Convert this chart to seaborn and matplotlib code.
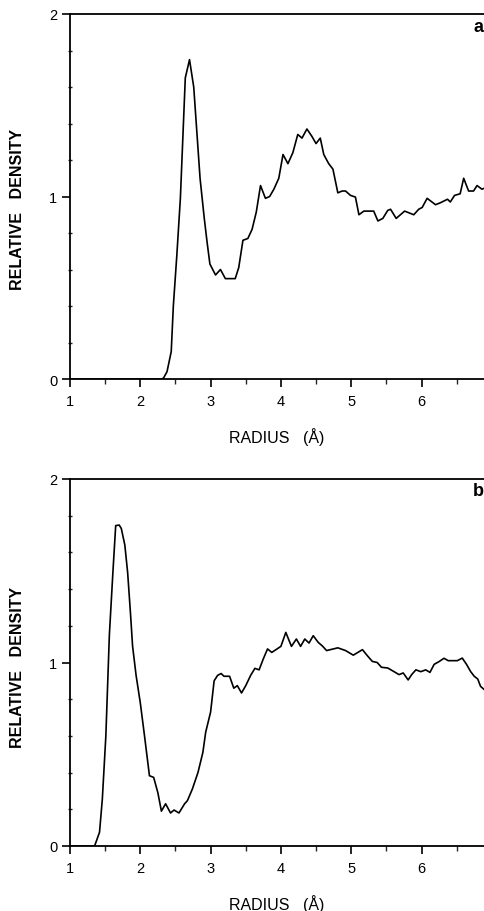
import numpy as np
import pandas as pd
import matplotlib
matplotlib.use("Agg")
import matplotlib.pyplot as plt
import seaborn as sns
from matplotlib.ticker import MultipleLocator

radius_a = [1.0, 2.30, 2.33, 2.38, 2.44, 2.47, 2.52, 2.57, 2.64, 2.70, 2.76, 2.85, 2.91, 2.95, 2.99,
            3.07, 3.14, 3.21, 3.35, 3.40, 3.46, 3.53, 3.59, 3.65, 3.71, 3.78, 3.84, 3.90, 3.97, 4.03,
            4.10, 4.17, 4.24, 4.30, 4.37, 4.44, 4.50, 4.56, 4.61, 4.68, 4.74, 4.81, 4.87, 4.92, 4.99,
            5.06, 5.11, 5.18, 5.32, 5.38, 5.45, 5.52, 5.56, 5.64, 5.76, 5.89, 5.96, 6.01, 6.08, 6.20,
            6.27, 6.37, 6.41, 6.47, 6.55, 6.60, 6.67, 6.74, 6.79, 6.86, 6.92]
density_a = [0, 0, 0.005, 0.04, 0.15, 0.40, 0.68, 0.99, 1.65, 1.75, 1.60, 1.10, 0.88, 0.75, 0.63,
             0.57, 0.60, 0.55, 0.55, 0.61, 0.76, 0.77, 0.82, 0.915, 1.06, 0.99, 1.00, 1.04, 1.10, 1.23,
             1.18, 1.24, 1.34, 1.32, 1.37, 1.33, 1.29, 1.32, 1.23, 1.18, 1.15, 1.02, 1.03, 1.03, 1.006,
             0.997, 0.90, 0.92, 0.92, 0.866, 0.88, 0.924, 0.93, 0.88, 0.92, 0.90, 0.93, 0.94, 0.99, 0.955,
             0.966, 0.985, 0.97, 1.006, 1.015, 1.10, 1.03, 1.03, 1.06, 1.04, 1.05]

radius_b = [1.0, 1.35, 1.42, 1.46, 1.51, 1.56, 1.61, 1.65, 1.70, 1.73, 1.78, 1.82, 1.86, 1.89, 1.94,
            2.00, 2.06, 2.13, 2.19, 2.25, 2.30, 2.36, 2.43, 2.48, 2.55, 2.63, 2.67, 2.74, 2.82, 2.89,
            2.93, 3.00, 3.05, 3.10, 3.15, 3.19, 3.27, 3.33, 3.38, 3.44, 3.50, 3.57, 3.63, 3.69, 3.75,
            3.81, 3.87, 3.93, 4.00, 4.07, 4.15, 4.22, 4.28, 4.34, 4.40, 4.46, 4.53, 4.59, 4.65, 4.81,
            4.92, 5.03, 5.16, 5.23, 5.30, 5.37, 5.43, 5.52, 5.61, 5.68, 5.74, 5.81, 5.86, 5.92, 5.99,
            6.06, 6.12, 6.18, 6.25, 6.32, 6.38, 6.51, 6.58, 6.64, 6.70, 6.75, 6.80, 6.84, 6.90]
density_b = [0, 0, 0.075, 0.256, 0.60, 1.15, 1.49, 1.746, 1.749, 1.73, 1.64, 1.49, 1.27, 1.09, 0.93,
             0.78, 0.60, 0.383, 0.374, 0.29, 0.19, 0.23, 0.18, 0.196, 0.18, 0.23, 0.247, 0.31, 0.40, 0.51,
             0.62, 0.73, 0.90, 0.93, 0.94, 0.925, 0.925, 0.86, 0.874, 0.834, 0.874, 0.93, 0.968, 0.96, 1.02,
             1.074, 1.055, 1.07, 1.088, 1.164, 1.088, 1.128, 1.088, 1.128, 1.106, 1.146, 1.11, 1.09, 1.065, 1.08,
             1.065, 1.04, 1.07, 1.037, 1.006, 1.00, 0.974, 0.97, 0.95, 0.934, 0.943, 0.905, 0.934, 0.96, 0.95,
             0.96, 0.946, 0.99, 1.005, 1.023, 1.01, 1.01, 1.024, 0.99, 0.95, 0.925, 0.91, 0.87, 0.85]

panel_labels = ["a", "b"]
x_ticks = [1, 2, 3, 4, 5, 6]
y_ticks = [0, 1, 2]
xlabel = "RADIUS   (Å)"
ylabel = "RELATIVE   DENSITY"

sns.set_style("ticks")
plt.rcParams['font.family'] = ['Liberation Sans', 'DejaVu Sans']

W, H = 484, 912
fig = plt.figure(figsize=(W / 100, H / 100), dpi=100)

left_px, right_px = 70, 484
panels = [(15, 380), (480, 847)]
datasets = [(radius_a, density_a), (radius_b, density_b)]

for (top_px, bot_px), (rx, dy), lab in zip(panels, datasets, panel_labels):
    ax = fig.add_axes([left_px / W, 1 - bot_px / H, (right_px - left_px) / W, (bot_px - top_px) / H])
    df = pd.DataFrame({"radius": rx, "density": dy})
    sns.lineplot(data=df, x="radius", y="density", ax=ax, color="black", lw=1.2, sort=False)
    ax.set_xlim(1, 1 + (right_px - left_px) / 70.3)
    ax.set_ylim(0, 2)
    ax.set_xticks(x_ticks)
    ax.set_yticks(y_ticks)
    ax.xaxis.set_minor_locator(MultipleLocator(0.5))
    ax.yaxis.set_minor_locator(MultipleLocator(0.2))
    ax.tick_params(axis="both", which="major", direction="out", length=6, width=1.2,
                   labelsize=10.5, color="black", labelcolor="black")
    ax.tick_params(axis="x", which="minor", direction="out", length=3.5, width=1.0)
    ax.tick_params(axis="y", which="minor", direction="inout", length=3, width=1.0)
    ax.tick_params(axis="y", which="major", pad=3)
    ax.tick_params(axis="x", which="major", pad=5)
    for s in ["left", "top", "bottom"]:
        ax.spines[s].set_linewidth(1.3)
        ax.spines[s].set_color("black")
    ax.spines["right"].set_visible(False)
    ax.set_xlabel(xlabel, fontsize=11.5, color="black")
    ax.xaxis.label.set_va("center")
    h = bot_px - top_px
    ax.xaxis.set_label_coords(0.5, -57 / h)
    ax.set_ylabel(ylabel, fontsize=11.5, fontweight="bold", color="black")
    ax.yaxis.label.set_va("center")
    ax.yaxis.set_label_coords(-(70 - 18) / (right_px - left_px), 0.5 - 12 / h if lab == "a" else 0.49)
    ax.text(1.0, 1 - 12 / h, lab, transform=ax.transAxes,
            fontsize=13, fontweight="bold", ha="right", va="center", clip_on=False, color="black")

fig.savefig("out.png", dpi=100)
